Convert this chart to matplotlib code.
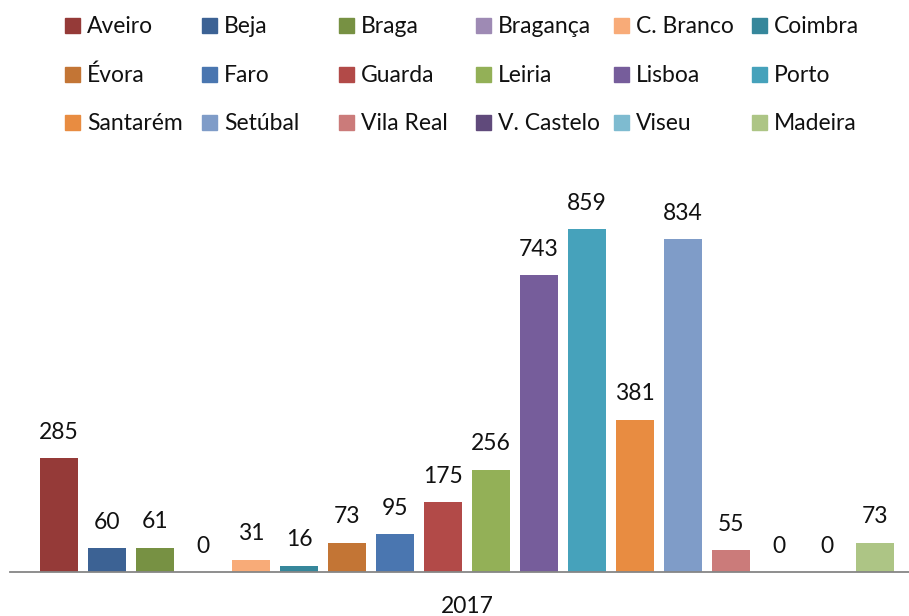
import matplotlib
matplotlib.use('Agg')
import matplotlib.pyplot as plt
from matplotlib.patches import Rectangle

plt.rcParams['font.family'] = ['Lato', 'DejaVu Sans']

districts = ['Aveiro', 'Beja', 'Braga', 'Bragança', 'C. Branco', 'Coimbra',
             'Évora', 'Faro', 'Guarda', 'Leiria', 'Lisboa', 'Porto',
             'Santarém', 'Setúbal', 'Vila Real', 'V. Castelo', 'Viseu', 'Madeira']
values = [285, 60, 61, 0, 31, 16, 73, 95, 175, 256, 743, 859, 381, 834, 55, 0, 0, 73]
colors = ['#953A38', '#3C6294', '#779143', '#9E8AB4', '#F8AB78', '#36879B',
          '#C37535', '#4A76B0', '#B24A48', '#93B057', '#765D9B', '#46A2BB',
          '#E88C41', '#7F9CC8', '#CB7B7A', '#604A7B', '#7EBBD0', '#ADC585']
year = '2017'

W, H = 909, 616
fig = plt.figure(figsize=(W / 100, H / 100), dpi=100)

# axes placed in pixel terms: baseline at y=572, left edge x=10
ax = fig.add_axes([10 / W, 44 / H, 1 - 10 / W, (572 - 190) / H])

x = list(range(len(values)))
ax.bar(x, values, width=0.79, color=colors, zorder=2)
for xi, v in zip(x, values):
    ax.annotate(str(v), (xi, v), xytext=(0, 14), textcoords='offset points',
                ha='center', va='baseline', fontsize=16.5, color='#111111')

ax.set_xlim(-1.02, 17.71)
ax.set_ylim(0, 382 / 0.3993)
ax.set_xticks([(len(values) - 1) / 2])
ax.set_xticklabels([year], fontsize=16.5, color='#111111')
ax.tick_params(axis='x', length=0, pad=17)
ax.set_yticks([])
for s in ['top', 'right', 'left']:
    ax.spines[s].set_visible(False)
ax.spines['bottom'].set_color('#868686')
ax.spines['bottom'].set_linewidth(1.3)

# legend, 3 rows x 6 columns, filled row-wise
col_x = [65, 202, 339, 476, 614, 752]
row_y = [33, 81.5, 130]
for i, (name, c) in enumerate(zip(districts, colors)):
    r, k = divmod(i, 6)
    px, py = col_x[k], row_y[r]
    fig.add_artist(Rectangle((px / W, 1 - py / H), 15 / W, 15 / H,
                             transform=fig.transFigure, color=c))
    fig.text((px + 22) / W, 1 - py / H, name, ha='left', va='baseline',
             fontsize=16.5, color='#111111')

fig.savefig('out.png', dpi=100)
